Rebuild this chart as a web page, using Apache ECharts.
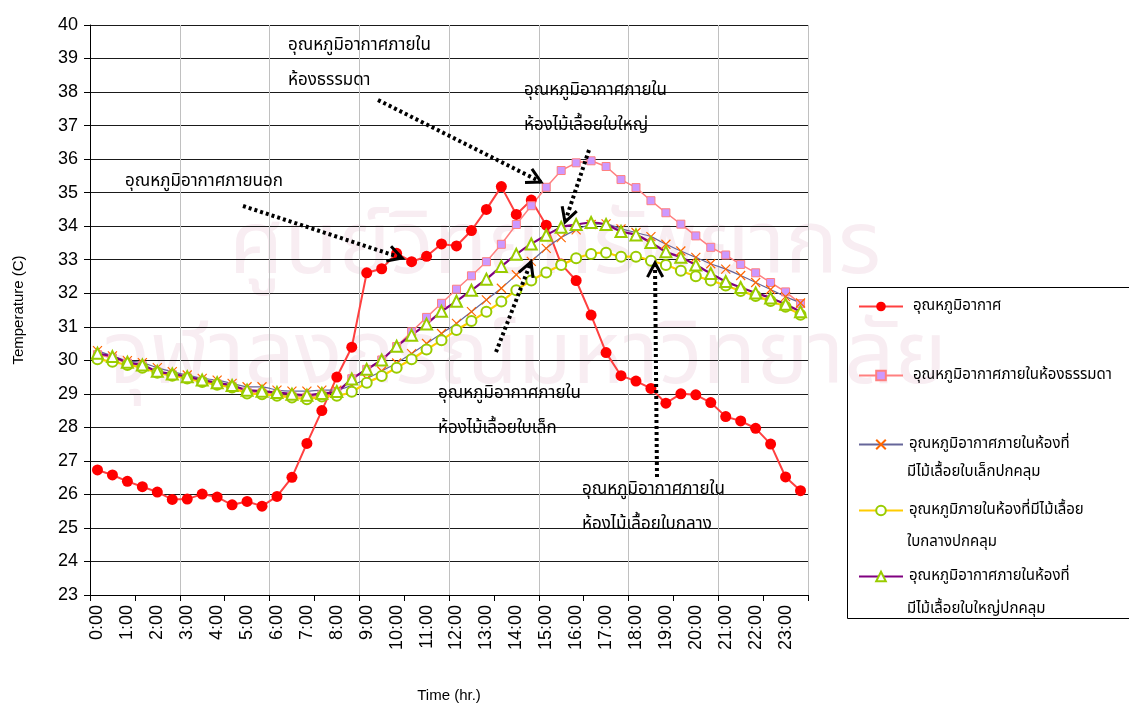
<!DOCTYPE html>
<html>
<head>
<meta charset="utf-8">
<script src="https://cdn.jsdelivr.net/npm/echarts@6/dist/echarts.min.js"></script>
<style>
  html, body { margin: 0; padding: 0; background: #fff; }
  #chart { width: 1129px; height: 704px; }
</style>
</head>
<body>
<div id="chart"></div>
<script>
// Half-hourly time categories (0:00 .. 23:30)
const times = [
  '0:00','0:30','1:00','1:30','2:00','2:30','3:00','3:30','4:00','4:30',
  '5:00','5:30','6:00','6:30','7:00','7:30','8:00','8:30','9:00','9:30',
  '10:00','10:30','11:00','11:30','12:00','12:30','13:00','13:30','14:00','14:30',
  '15:00','15:30','16:00','16:30','17:00','17:30','18:00','18:30','19:00','19:30',
  '20:00','20:30','21:00','21:30','22:00','22:30','23:00','23:30'
];

// Outdoor air temperature (C)
const outdoor = [
  26.73,26.58,26.39,26.23,26.07,25.85,25.86,26.01,25.92,25.69,
  25.79,25.65,25.94,26.51,27.52,28.50,29.50,30.39,32.61,32.73,
  33.19,32.94,33.10,33.47,33.41,33.87,34.50,35.18,34.35,34.78,
  34.03,32.87,32.38,31.35,30.23,29.54,29.38,29.16,28.72,29.00,
  28.97,28.74,28.32,28.19,27.97,27.50,26.52,26.11
];

// Ordinary room (no climbing plant)
const roomNormal = [
  30.17,30.07,29.92,29.84,29.65,29.57,29.48,29.38,29.30,29.22,
  29.06,29.03,28.98,28.93,28.90,28.97,29.05,29.45,29.73,30.01,
  30.41,30.85,31.28,31.70,32.12,32.52,32.94,33.46,34.05,34.61,
  35.16,35.66,35.89,35.95,35.78,35.39,35.15,34.76,34.40,34.06,
  33.71,33.37,33.14,32.86,32.61,32.32,32.04,31.69
];

// Room covered by small-leaf climber
const roomSmallLeaf = [
  30.29,30.13,29.99,29.93,29.78,29.66,29.56,29.46,29.41,29.31,
  29.21,29.21,29.11,29.08,29.08,29.11,29.11,29.25,29.45,29.68,
  29.92,30.20,30.50,30.80,31.10,31.45,31.80,32.15,32.55,32.95,
  33.34,33.66,33.89,34.05,34.07,33.92,33.81,33.69,33.46,33.26,
  33.07,32.88,32.72,32.53,32.32,32.11,31.90,31.71
];

// Room covered by medium-leaf climber
const roomMediumLeaf = [
  30.03,29.96,29.86,29.78,29.63,29.54,29.46,29.35,29.27,29.19,
  29.01,28.99,28.94,28.89,28.84,28.92,28.94,29.06,29.33,29.53,
  29.78,30.03,30.32,30.60,30.90,31.17,31.45,31.75,32.09,32.38,
  32.62,32.84,33.04,33.17,33.21,33.09,33.09,32.97,32.84,32.67,
  32.51,32.38,32.23,32.07,31.92,31.77,31.60,31.36
];

// Room covered by large-leaf climber
const roomLargeLeaf = [
  30.21,30.11,29.94,29.86,29.67,29.59,29.51,29.41,29.33,29.25,
  29.11,29.08,29.04,28.99,28.96,29.01,29.07,29.44,29.73,30.01,
  30.42,30.75,31.08,31.46,31.76,32.09,32.42,32.80,33.16,33.47,
  33.73,33.97,34.05,34.11,34.05,33.84,33.74,33.51,33.24,33.07,
  32.84,32.59,32.35,32.17,32.01,31.86,31.67,31.45
];

// Legend labels, split over the lines they are printed on
const legendLines = [
  ['อุณหภูมิอากาศ'],
  ['อุณหภูมิอากาศภายในห้องธรรมดา'],
  ['อุณหภูมิอากาศภายในห้องที่', 'มีไม้เลื้อยใบเล็กปกคลุม'],
  ['อุณหภูมิภายในห้องที่มีไม้เลื้อย', 'ใบกลางปกคลุม'],
  ['อุณหภูมิอากาศภายในห้องที่', 'มีไม้เลื้อยใบใหญ่ปกคลุม']
];

// Callout texts
const calloutTexts = [
  ['อุณหภูมิอากาศภายใน', 'ห้องธรรมดา'],
  ['อุณหภูมิอากาศภายใน', 'ห้องไม้เลื้อยใบใหญ่'],
  ['อุณหภูมิอากาศภายนอก'],
  ['อุณหภูมิอากาศภายใน', 'ห้องไม้เลื้อยใบเล็ก'],
  ['อุณหภูมิอากาศภายใน', 'ห้องไม้เลื้อยใบกลาง']
];

const watermarkLines = ['ศูนย์วิทยทรัพยากร', 'จุฬาลงกรณ์มหาวิทยาลัย'];

const FONT = "'Liberation Sans', Arial, sans-serif";
const THAI = "Tahoma, 'Noto Sans Thai', 'Noto Sans', 'DejaVu Sans', sans-serif";

const names = legendLines.map(l => l.join(''));

// --- layout of callouts / legend (pixels) ---
const calloutPos = [
  { x: 288, y: 47 }, { x: 524, y: 92 }, { x: 125, y: 183 },
  { x: 438, y: 395 }, { x: 582, y: 491 }
];
const arrows = [
  [[378, 100], [541, 182]],
  [[589, 150], [565, 222]],
  [[243, 206], [402, 258]],
  [[496, 352], [531, 262]],
  [[657, 477], [655, 263]]
];
const legendRows = [305, 374, 443, 509, 575];
const legendSecondRows = [null, null, 473, 543, 610];

const chart = echarts.init(document.getElementById('chart'), null, { renderer: 'canvas' });

const graphics = [];
// faint watermark behind the plot
graphics.push({
  type: 'text', z: -10, silent: true,
  style: { text: watermarkLines[0], x: 555, y: 255, align: 'center', verticalAlign: 'middle',
           font: '88px ' + THAI, fill: '#f8edf2' }
});
graphics.push({
  type: 'text', z: -10, silent: true,
  style: { text: watermarkLines[1], x: 525, y: 365, align: 'center', verticalAlign: 'middle',
           font: '88px ' + THAI, fill: '#f8edf2' }
});

// callout texts
calloutTexts.forEach((lines, i) => {
  lines.forEach((t, j) => {
    graphics.push({
      type: 'text', z: 50,
      style: { text: t, x: calloutPos[i].x, y: calloutPos[i].y + j * 35,
               verticalAlign: 'middle', font: '17px ' + THAI, fill: '#000' }
    });
  });
});

// dotted callout arrows with open heads
arrows.forEach(([p0, p1]) => {
  graphics.push({
    type: 'line', z: 50,
    shape: { x1: p0[0], y1: p0[1], x2: p1[0], y2: p1[1] },
    style: { stroke: '#000', lineWidth: 4, lineDash: [3, 3] }
  });
  const ang = Math.atan2(p1[1] - p0[1], p1[0] - p0[0]);
  const len = 16, spread = 0.5;
  const a = [p1[0] - len * Math.cos(ang - spread), p1[1] - len * Math.sin(ang - spread)];
  const b = [p1[0] - len * Math.cos(ang + spread), p1[1] - len * Math.sin(ang + spread)];
  graphics.push({
    type: 'polyline', z: 51,
    shape: { points: [a, p1, b] },
    style: { stroke: '#000', lineWidth: 3, fill: null }
  });
});

// legend frame and wrapped second lines
graphics.push({
  type: 'rect', z: 40,
  shape: { x: 847.5, y: 287.5, width: 300, height: 331 },
  style: { fill: null, stroke: '#000', lineWidth: 1 }
});
legendSecondRows.forEach((y, i) => {
  if (y == null) return;
  graphics.push({
    type: 'text', z: 60,
    style: { text: legendLines[i][1], x: 907, y: y, verticalAlign: 'middle',
             font: '15px ' + THAI, fill: '#000' }
  });
});

const legends = names.map((n, i) => ({
  data: [n],
  left: 858,
  top: legendRows[i] - 6,
  orient: 'vertical',
  itemWidth: 44,
  itemHeight: 12,
  itemGap: 0,
  padding: 0,
  selectedMode: false,
  z: 60,
  formatter: () => legendLines[i][0],
  textStyle: { fontSize: 15, fontFamily: THAI, color: '#000', padding: [0, 0, 0, i < 2 ? 5 : 1] }
}));

const xMark = 'path://M0,0L10,10M10,0L0,10';

chart.setOption({
  backgroundColor: '#fff',
  animation: false,
  grid: { left: 90, right: 321, top: 25, bottom: 109, outerBoundsMode: 'none', containLabel: false },
  legend: legends,
  graphic: graphics,
  xAxis: {
    type: 'category',
    data: times,
    boundaryGap: true,
    name: 'Time (hr.)',
    nameLocation: 'middle',
    nameGap: 93,
    nameTextStyle: { fontSize: 15, fontFamily: FONT, color: '#000' },
    axisLine: { lineStyle: { color: '#000', width: 1 } },
    axisTick: { show: true, interval: 2, length: 6, lineStyle: { color: '#000' } },
    axisLabel: { interval: 1, rotate: 90, fontSize: 18, fontFamily: FONT, color: '#000', margin: 10 },
    splitLine: { show: true, interval: 5, lineStyle: { color: '#c0c0c0', width: 1 } }
  },
  yAxis: {
    type: 'value',
    min: 23, max: 40, interval: 1,
    name: 'Temperature (C)',
    nameLocation: 'middle',
    nameRotate: 90,
    nameGap: 64,
    nameTextStyle: { fontSize: 15, fontFamily: FONT, color: '#000' },
    axisLine: { show: true, lineStyle: { color: '#000', width: 1 } },
    axisTick: { show: true, length: 6, lineStyle: { color: '#000' } },
    axisLabel: { fontSize: 18, fontFamily: FONT, color: '#000', margin: 12 },
    splitLine: { show: true, lineStyle: { color: '#1a1a1a', width: 1 } }
  },
  series: [
    {
      name: names[0], type: 'line', data: outdoor,
      symbol: 'circle', symbolSize: 11, showAllSymbol: true,
      itemStyle: { color: '#ff0000' },
      lineStyle: { color: '#ff4040', width: 2 }
    },
    {
      name: names[1], type: 'line', data: roomNormal,
      symbol: 'rect', symbolSize: 8, showAllSymbol: true,
      itemStyle: { color: '#cc99ff', borderColor: '#ff8080', borderWidth: 1 },
      lineStyle: { color: '#ff8080', width: 1.5 }
    },
    {
      name: names[2], type: 'line', data: roomSmallLeaf,
      symbol: xMark, symbolSize: 9, smooth: 0.2, showAllSymbol: true,
      itemStyle: { color: '#ff6600', borderColor: '#ff6600', borderWidth: 1.2 },
      lineStyle: { color: '#666699', width: 1.2 }
    },
    {
      name: names[3], type: 'line', data: roomMediumLeaf,
      symbol: 'emptyCircle', symbolSize: 10, smooth: 0.2, showAllSymbol: true,
      itemStyle: { color: '#99cc00', borderWidth: 1.2 },
      lineStyle: { color: '#ffcc00', width: 2.2 }
    },
    {
      name: names[4], type: 'line', data: roomLargeLeaf,
      symbol: 'emptyTriangle', symbolSize: 11, smooth: 0.2, showAllSymbol: true,
      itemStyle: { color: '#99cc00', borderWidth: 1.2 },
      lineStyle: { color: '#800080', width: 2.2 }
    }
  ]
});
</script>
</body>
</html>
